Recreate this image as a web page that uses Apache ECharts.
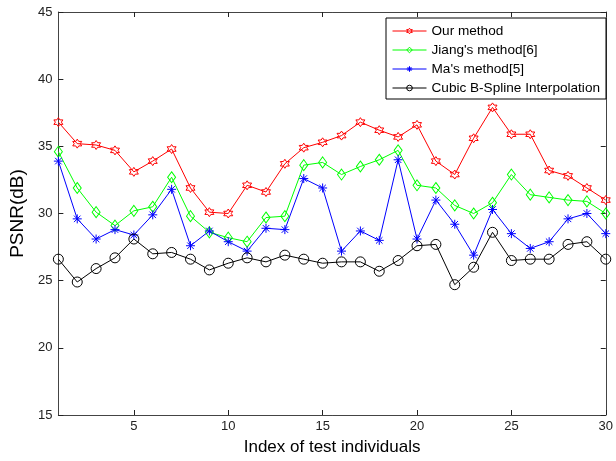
<!DOCTYPE html>
<html>
<head>
<meta charset="utf-8">
<script src="https://cdn.jsdelivr.net/npm/echarts@6/dist/echarts.min.js"></script>
<style>
  html, body { margin: 0; padding: 0; background: #fff; }
  #main { width: 616px; height: 461px; }
</style>
</head>
<body>
<div id="main"></div>
<script>
// test individual index (x axis)
var individuals = ["1","2","3","4","5","6","7","8","9","10","11","12","13","14","15",
  "16","17","18","19","20","21","22","23","24","25","26","27","28","29","30"];

var seriesNames = ["Our method", "Jiang's method[6]", "Ma's method[5]", "Cubic B-Spline Interpolation"];
var seriesColors = ["#ff0000", "#00ff00", "#0000ff", "#000000"];

var ourMethod = [36.8, 35.2, 35.1, 34.7, 33.1, 33.9, 34.8, 31.9, 30.1, 30.0,
  32.1, 31.6, 33.7, 34.9, 35.3, 35.8, 36.8, 36.2, 35.7, 36.6,
  33.9, 32.9, 35.6, 37.9, 35.9, 35.9, 33.2, 32.8, 31.9, 31.0];

var jiangMethod = [34.6, 31.9, 30.1, 29.1, 30.2, 30.5, 32.7, 29.8, 28.6, 28.2,
  27.9, 29.7, 29.8, 33.6, 33.8, 32.9, 33.5, 34.0, 34.7, 32.1,
  31.9, 30.6, 30.0, 30.8, 32.9, 31.4, 31.2, 31.0, 30.9, 30.0];

var maMethod = [33.9, 29.6, 28.1, 28.8, 28.4, 29.9, 31.8, 27.6, 28.7, 27.9,
  27.2, 28.9, 28.8, 32.6, 31.9, 27.2, 28.7, 28.0, 34.0, 28.1,
  31.0, 29.2, 26.9, 30.3, 28.5, 27.4, 27.9, 29.6, 30.0, 28.5];

var cubicSpline = [26.6, 24.9, 25.9, 26.7, 28.1, 27.0, 27.1, 26.6, 25.8, 26.3,
  26.7, 26.4, 26.9, 26.6, 26.3, 26.4, 26.4, 25.7, 26.5, 27.6,
  27.7, 24.7, 26.0, 28.6, 26.5, 26.6, 26.6, 27.7, 27.9, 26.6];

var yMin = 15, yMax = 45, yStep = 5;

// marker shapes (matlab-like)
var hexagram = "path://M0,-10L2.887,-5L8.66,-5L5.774,0L8.66,5L2.887,5L0,10L-2.887,5L-8.66,5L-5.774,0L-8.66,-5L-2.887,-5Z";
var asterisk = "path://M0,-5L0,5M-5,0L5,0M-3.6,-3.6L3.6,3.6M-3.6,3.6L3.6,-3.6";

var tickFont = "'Liberation Sans Narrow', 'Arial Narrow', 'Liberation Sans', sans-serif";
var mainFont = "'Liberation Sans', Arial, sans-serif";

function makeSeries(name, data, color, symbol, size) {
  return {
    name: name,
    type: "line",
    data: data,
    symbol: symbol,
    symbolSize: size,
    showAllSymbol: true,
    animation: false,
    lineStyle: { color: color, width: 1 },
    itemStyle: { color: "rgba(255,255,255,0)", borderColor: color, borderWidth: 1 },
    emphasis: { disabled: true }
  };
}

var legendData = seriesNames.map(function (n, i) {
  return {
    name: n,
    itemStyle: { color: "rgba(255,255,255,0)", borderColor: seriesColors[i], borderWidth: 1 },
    lineStyle: { color: seriesColors[i], width: 1 }
  };
});

var chart = echarts.init(document.getElementById("main"));
var option = {
  backgroundColor: "#fff",
  animation: false,
  grid: { left: 46, right: 5, top: 12, bottom: 38 },
  legend: {
    orient: "vertical",
    left: 386,
    top: 18,
    data: legendData,
    backgroundColor: "#fff",
    borderColor: "#000",
    borderWidth: 1,
    borderRadius: 0,
    padding: [6, 6, 4, 6],
    itemWidth: 34,
    itemHeight: 7,
    itemGap: 5,
    textStyle: { fontFamily: mainFont, fontSize: 13.6, color: "#000" }
  },
  xAxis: [{
    type: "category",
    data: individuals,
    boundaryGap: false,
    name: "Index of test individuals",
    nameLocation: "middle",
    nameGap: 24,
    nameTextStyle: { fontFamily: mainFont, fontSize: 17, color: "#000", verticalAlign: "top" },
    axisLine: { lineStyle: { color: "#444", width: 1 } },
    axisTick: { inside: true, length: 5, lineStyle: { color: "#222" },
      interval: function (i) { return (i + 1) % 5 === 0; } },
    axisLabel: { fontFamily: tickFont, fontSize: 13, color: "#222", margin: 5,
      interval: function (i) { return (i + 1) % 5 === 0; } },
    splitLine: { show: false }
  }, {
    type: "category",
    data: individuals,
    boundaryGap: false,
    position: "top",
    axisLine: { lineStyle: { color: "#444", width: 1 } },
    axisTick: { inside: true, length: 5, lineStyle: { color: "#222" },
      interval: function (i) { return (i + 1) % 5 === 0; } },
    axisLabel: { show: false },
    splitLine: { show: false }
  }],
  yAxis: [{
    type: "value",
    min: yMin,
    max: yMax,
    interval: yStep,
    name: "PSNR(dB)",
    nameLocation: "middle",
    nameGap: 22,
    nameRotate: 90,
    nameTextStyle: { fontFamily: mainFont, fontSize: 19, color: "#000" },
    axisLine: { show: true, lineStyle: { color: "#444", width: 1 } },
    axisTick: { show: true, inside: true, length: 5, lineStyle: { color: "#222" } },
    axisLabel: { fontFamily: tickFont, fontSize: 13, color: "#222", margin: 6 },
    splitLine: { show: false }
  }, {
    type: "value",
    min: yMin,
    max: yMax,
    interval: yStep,
    position: "right",
    axisLine: { show: true, lineStyle: { color: "#444", width: 1 } },
    axisTick: { show: true, inside: true, length: 5, lineStyle: { color: "#222" } },
    axisLabel: { show: false },
    splitLine: { show: false }
  }],
  series: [
    makeSeries(seriesNames[0], ourMethod, seriesColors[0], hexagram, 9),
    makeSeries(seriesNames[1], jiangMethod, seriesColors[1], "diamond", [8, 11]),
    makeSeries(seriesNames[2], maMethod, seriesColors[2], asterisk, 9),
    makeSeries(seriesNames[3], cubicSpline, seriesColors[3], "circle", 10)
  ]
};
chart.setOption(option);
</script>
</body>
</html>
